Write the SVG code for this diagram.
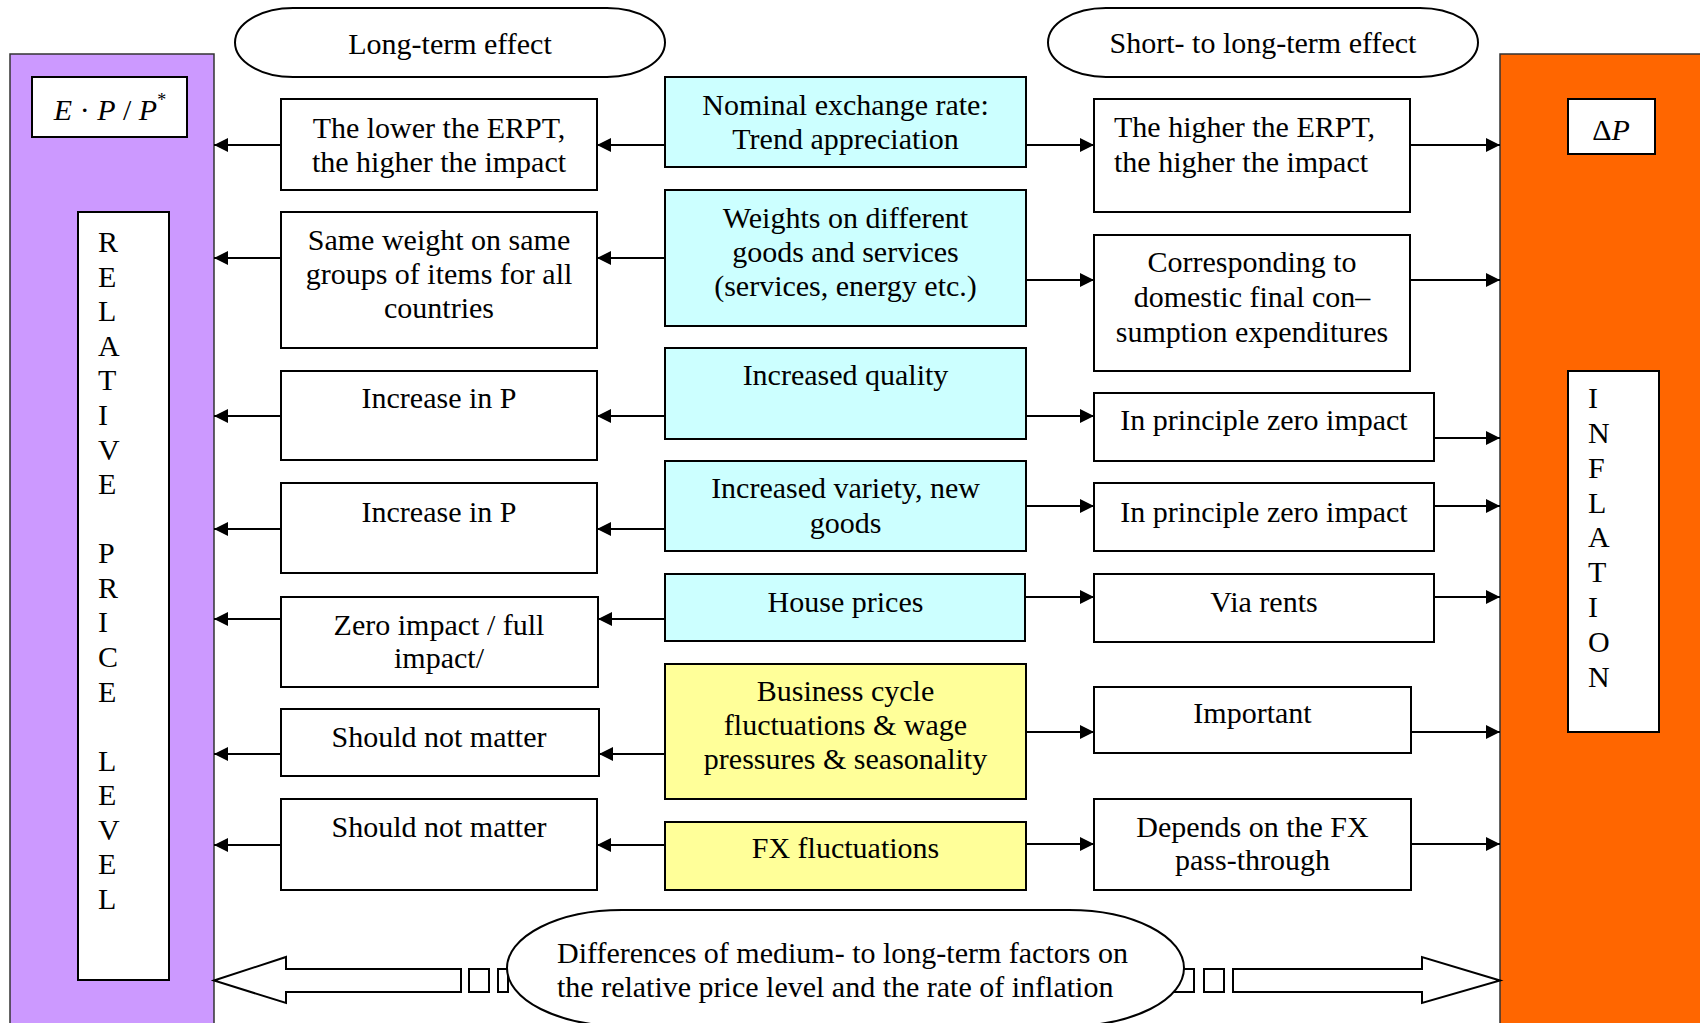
<svg xmlns="http://www.w3.org/2000/svg" width="1700" height="1023" viewBox="0 0 1700 1023">
<style>
text{font-family:"Liberation Serif","Times New Roman",serif;font-size:30px;fill:#000}
.c{text-anchor:middle}
.box{fill:#fff;stroke:#000;stroke-width:2}
.cy{fill:#CCFFFF;stroke:#000;stroke-width:2}
.ye{fill:#FFFF99;stroke:#000;stroke-width:2}
.ln{stroke:#000;stroke-width:2;fill:none}
.ba{fill:#fff;stroke:#000;stroke-width:2}
</style>
<defs>
<marker id="ah" markerUnits="userSpaceOnUse" markerWidth="14" markerHeight="14" refX="14" refY="7" orient="auto">
<path d="M0,0 L14,7 L0,14 z" fill="#000"/>
</marker>
</defs>
<rect width="1700" height="1023" fill="#fff"/>

<g id="relative-price-panel">
<rect x="10" y="54" width="204" height="1000" fill="#CC99FF" stroke="#333" stroke-width="1.5"/>
<g id="epp">
<rect x="32" y="77" width="155" height="60" class="box"/>
<text x="110" y="120" class="c"><tspan font-style="italic">E</tspan> · <tspan font-style="italic">P</tspan> / <tspan font-style="italic">P</tspan><tspan font-size="18" dy="-14">*</tspan></text>
</g>
<g id="rpl">
<rect x="78" y="212" width="91" height="768" class="box"/>
<text x="98" y="252">R</text>
<text x="98" y="286.6">E</text>
<text x="98" y="321.2">L</text>
<text x="98" y="355.7">A</text>
<text x="98" y="390.3">T</text>
<text x="98" y="424.9">I</text>
<text x="98" y="459.5">V</text>
<text x="98" y="494.1">E</text>
<text x="98" y="563.2">P</text>
<text x="98" y="597.8">R</text>
<text x="98" y="632.4">I</text>
<text x="98" y="667">C</text>
<text x="98" y="701.5">E</text>
<text x="98" y="770.7">L</text>
<text x="98" y="805.3">E</text>
<text x="98" y="839.9">V</text>
<text x="98" y="874.4">E</text>
<text x="98" y="909">L</text>
</g>
</g>

<g id="inflation-panel">
<rect x="1500" y="54" width="210" height="1000" fill="#FF6600" stroke="#333" stroke-width="1.5"/>
<g id="dp">
<rect x="1568" y="99" width="87" height="55" class="box"/>
<text x="1611" y="140" class="c">Δ<tspan font-style="italic">P</tspan></text>
</g>
<g id="infl">
<rect x="1568" y="371" width="91" height="361" class="box"/>
<text x="1588" y="408">I</text>
<text x="1588" y="443">N</text>
<text x="1588" y="478">F</text>
<text x="1588" y="513">L</text>
<text x="1588" y="547">A</text>
<text x="1588" y="582">T</text>
<text x="1588" y="617">I</text>
<text x="1588" y="652">O</text>
<text x="1588" y="687">N</text>
</g>
</g>

<g id="hdr-long">
<rect x="235" y="8" width="430" height="69" rx="58" ry="34.5" class="box"/>
<text x="450" y="54" class="c">Long-term effect</text>
</g>
<g id="hdr-short">
<rect x="1048" y="8" width="430" height="69" rx="58" ry="34.5" class="box"/>
<text x="1263" y="53" class="c">Short- to long-term effect</text>
</g>

<g id="c1"><rect x="665" y="77" width="361" height="90" class="cy"/>
<text x="845.5" y="115" class="c">Nominal exchange rate:</text>
<text x="845.5" y="149" class="c">Trend appreciation</text></g>
<g id="c2"><rect x="665" y="190" width="361" height="136" class="cy"/>
<text x="845.5" y="228" class="c">Weights on different</text>
<text x="845.5" y="262" class="c">goods and services</text>
<text x="845.5" y="296" class="c">(services, energy etc.)</text></g>
<g id="c3"><rect x="665" y="348" width="361" height="91" class="cy"/>
<text x="845.5" y="385" class="c">Increased quality</text></g>
<g id="c4"><rect x="665" y="461" width="361" height="90" class="cy"/>
<text x="845.5" y="498" class="c">Increased variety, new</text>
<text x="845.5" y="533" class="c">goods</text></g>
<g id="c5"><rect x="665" y="574" width="360" height="67" class="cy"/>
<text x="845.5" y="612" class="c">House prices</text></g>
<g id="c6"><rect x="665" y="664" width="361" height="135" class="ye"/>
<text x="845.5" y="701" class="c">Business cycle</text>
<text x="845.5" y="735" class="c">fluctuations &amp; wage</text>
<text x="845.5" y="769" class="c">pressures &amp; seasonality</text></g>
<g id="c7"><rect x="665" y="822" width="361" height="68" class="ye"/>
<text x="845.5" y="858" class="c">FX fluctuations</text></g>

<g id="l1"><rect x="281" y="99" width="316" height="91" class="box"/>
<text x="439" y="138" class="c">The lower the ERPT,</text>
<text x="439" y="172" class="c">the higher the impact</text></g>
<g id="l2"><rect x="281" y="212" width="316" height="136" class="box"/>
<text x="439" y="250" class="c">Same weight on same</text>
<text x="439" y="284" class="c">groups of items for all</text>
<text x="439" y="318" class="c">countries</text></g>
<g id="l3"><rect x="281" y="371" width="316" height="89" class="box"/>
<text x="439" y="408" class="c">Increase in P</text></g>
<g id="l4"><rect x="281" y="483" width="316" height="90" class="box"/>
<text x="439" y="522" class="c">Increase in P</text></g>
<g id="l5"><rect x="281" y="597" width="317" height="90" class="box"/>
<text x="439" y="635" class="c">Zero impact / full</text>
<text x="439" y="668" class="c">impact/</text></g>
<g id="l6"><rect x="281" y="709" width="318" height="67" class="box"/>
<text x="439" y="747" class="c">Should not matter</text></g>
<g id="l7"><rect x="281" y="799" width="316" height="91" class="box"/>
<text x="439" y="837" class="c">Should not matter</text></g>

<g id="r1"><rect x="1094" y="99" width="316" height="113" class="box"/>
<text x="1114" y="137">The higher the ERPT,</text>
<text x="1114" y="172">the higher the impact</text></g>
<g id="r2"><rect x="1094" y="235" width="316" height="136" class="box"/>
<text x="1252" y="272" class="c">Corresponding to</text>
<text x="1252" y="307" class="c">domestic final con–</text>
<text x="1252" y="342" class="c">sumption expenditures</text></g>
<g id="r3"><rect x="1094" y="393" width="340" height="68" class="box"/>
<text x="1264" y="430" class="c">In principle zero impact</text></g>
<g id="r4"><rect x="1094" y="483" width="340" height="68" class="box"/>
<text x="1264" y="522" class="c">In principle zero impact</text></g>
<g id="r5"><rect x="1094" y="574" width="340" height="68" class="box"/>
<text x="1264" y="612" class="c">Via rents</text></g>
<g id="r6"><rect x="1094" y="687" width="317" height="66" class="box"/>
<text x="1252.5" y="723" class="c">Important</text></g>
<g id="r7"><rect x="1094" y="799" width="317" height="91" class="box"/>
<text x="1252.5" y="837" class="c">Depends on the FX</text>
<text x="1252.5" y="870" class="c">pass-through</text></g>

<g id="connectors">
<line x1="665" y1="145" x2="597" y2="145" class="ln" marker-end="url(#ah)"/>
<line x1="281" y1="145" x2="214" y2="145" class="ln" marker-end="url(#ah)"/>
<line x1="665" y1="258" x2="597" y2="258" class="ln" marker-end="url(#ah)"/>
<line x1="281" y1="258" x2="214" y2="258" class="ln" marker-end="url(#ah)"/>
<line x1="665" y1="416" x2="597" y2="416" class="ln" marker-end="url(#ah)"/>
<line x1="281" y1="416" x2="214" y2="416" class="ln" marker-end="url(#ah)"/>
<line x1="665" y1="529" x2="597" y2="529" class="ln" marker-end="url(#ah)"/>
<line x1="281" y1="529" x2="214" y2="529" class="ln" marker-end="url(#ah)"/>
<line x1="665" y1="619" x2="598" y2="619" class="ln" marker-end="url(#ah)"/>
<line x1="281" y1="619" x2="214" y2="619" class="ln" marker-end="url(#ah)"/>
<line x1="665" y1="754" x2="599" y2="754" class="ln" marker-end="url(#ah)"/>
<line x1="281" y1="754" x2="214" y2="754" class="ln" marker-end="url(#ah)"/>
<line x1="665" y1="845" x2="597" y2="845" class="ln" marker-end="url(#ah)"/>
<line x1="281" y1="845" x2="214" y2="845" class="ln" marker-end="url(#ah)"/>

<line x1="1026" y1="145" x2="1094" y2="145" class="ln" marker-end="url(#ah)"/>
<line x1="1410" y1="145" x2="1500" y2="145" class="ln" marker-end="url(#ah)"/>
<line x1="1026" y1="280" x2="1094" y2="280" class="ln" marker-end="url(#ah)"/>
<line x1="1410" y1="280" x2="1500" y2="280" class="ln" marker-end="url(#ah)"/>
<line x1="1026" y1="416" x2="1094" y2="416" class="ln" marker-end="url(#ah)"/>
<line x1="1434" y1="438" x2="1500" y2="438" class="ln" marker-end="url(#ah)"/>
<line x1="1026" y1="506" x2="1094" y2="506" class="ln" marker-end="url(#ah)"/>
<line x1="1434" y1="506" x2="1500" y2="506" class="ln" marker-end="url(#ah)"/>
<line x1="1025" y1="597" x2="1094" y2="597" class="ln" marker-end="url(#ah)"/>
<line x1="1434" y1="597" x2="1500" y2="597" class="ln" marker-end="url(#ah)"/>
<line x1="1026" y1="732" x2="1094" y2="732" class="ln" marker-end="url(#ah)"/>
<line x1="1411" y1="732" x2="1500" y2="732" class="ln" marker-end="url(#ah)"/>
<line x1="1026" y1="844" x2="1094" y2="844" class="ln" marker-end="url(#ah)"/>
<line x1="1411" y1="844" x2="1500" y2="844" class="ln" marker-end="url(#ah)"/>

<polygon points="214,980.5 286,957 286,969 461,969 461,992 286,992 286,1003" class="ba"/>
<rect x="469" y="969" width="20" height="23" class="ba"/>
<rect x="498" y="969" width="10" height="23" class="ba"/>
<polygon points="1500,980.5 1422,957 1422,969 1233,969 1233,992 1422,992 1422,1003" class="ba"/>
<rect x="1204" y="969" width="20" height="23" class="ba"/>
<rect x="1172" y="969" width="22" height="23" class="ba"/>
</g>

<g id="bottom-note">
<rect x="507" y="910" width="677" height="116" rx="115" ry="58" class="box"/>
<text x="557" y="963">Differences of medium- to long-term factors on</text>
<text x="557" y="997">the relative price level and the rate of inflation</text>
</g>
</svg>
